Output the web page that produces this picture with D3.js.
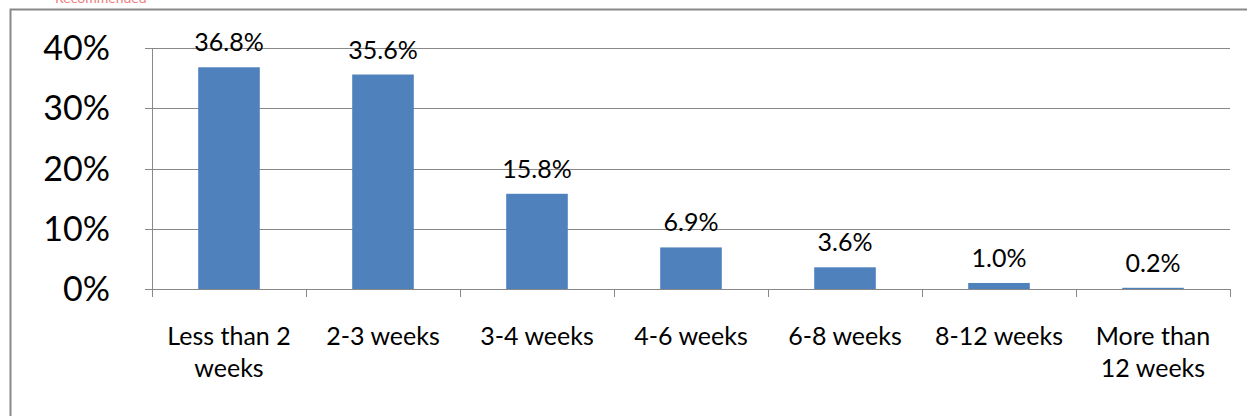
<!DOCTYPE html><html><head><script src="https://cdn.jsdelivr.net/npm/d3@7"></script>
<style>body{margin:0;background:#fff}</style></head><body><svg width="1247" height="416"></svg><script>
const categories=[["Less than 2","weeks"],["2-3 weeks"],["3-4 weeks"],["4-6 weeks"],["6-8 weeks"],["8-12 weeks"],["More than","12 weeks"]];
const values=[36.8,35.6,15.8,6.9,3.6,1.0,0.2];
const yTicks=[0,10,20,30,40];
const svg=d3.select("svg"),F="Lato, sans-serif";
svg.append("text").attr("x",55).attr("y",3).attr("fill","#f08080").attr("font-family",F).attr("font-size",14).text("Recommended");
svg.append("rect").attr("x",10.5).attr("y",9.5).attr("width",1240).attr("height",420).attr("fill","none").attr("stroke","#888").attr("stroke-width",2);
const x=d3.scaleBand().domain(d3.range(7)).range([152,1230]).paddingInner(0.6).paddingOuter(0.3);
const xb=d3.scaleBand().domain(d3.range(7)).range([152,1230]);
const y=d3.scaleLinear().domain([0,40]).range([289,48]);
const g=svg.append("g");
yTicks.forEach(t=>{g.append("line").attr("x1",145).attr("x2",1230).attr("y1",Math.round(y(t))+.5).attr("y2",Math.round(y(t))+.5).attr("stroke","#888");
g.append("text").attr("x",110).attr("y",y(t)+12).attr("text-anchor","end").attr("font-family",F).attr("font-size",34).text(t+"%");});
g.append("line").attr("x1",152.5).attr("x2",152.5).attr("y1",48).attr("y2",289).attr("stroke","#888");
d3.range(8).forEach(i=>{const xx=Math.round(152+i*xb.bandwidth())+.5;g.append("line").attr("x1",xx).attr("x2",xx).attr("y1",289).attr("y2",297).attr("stroke","#888");});
values.forEach((v,i)=>{g.append("rect").attr("x",x(i)).attr("width",x.bandwidth()).attr("y",y(v)).attr("height",y(0)-y(v)).attr("fill","#4f81bd");
g.append("text").attr("x",x(i)+x.bandwidth()/2).attr("y",y(v)-16).attr("text-anchor","middle").attr("font-family",F).attr("font-size",25).text(v.toFixed(1)+"%");
categories[i].forEach((l,j)=>g.append("text").attr("x",xb(i)+xb.bandwidth()/2).attr("y",345+j*32).attr("text-anchor","middle").attr("font-family",F).attr("font-size",25).text(l));});
</script></body></html>
